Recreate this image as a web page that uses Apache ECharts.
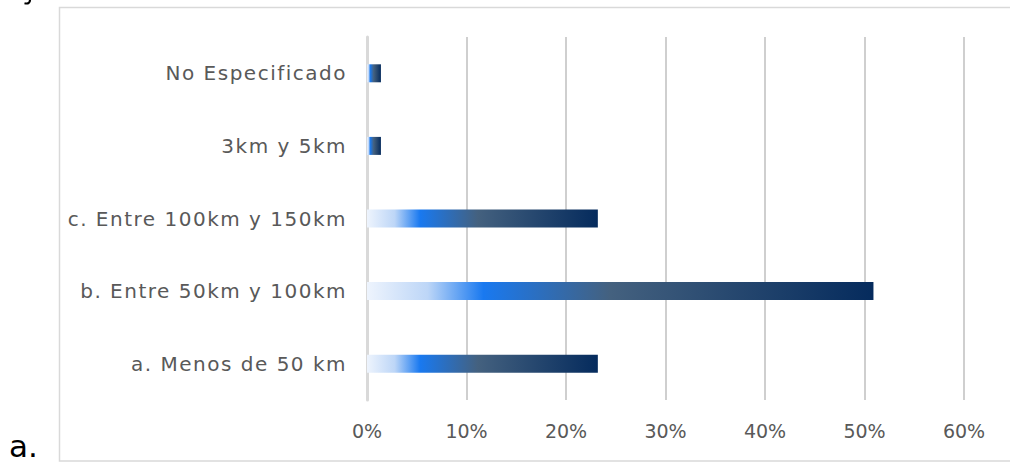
<!DOCTYPE html>
<html>
<head>
<meta charset="utf-8">
<script src="https://cdn.jsdelivr.net/npm/echarts@6/dist/echarts.min.js"></script>
<style>
  html, body { margin: 0; padding: 0; background: #ffffff; }
  #chart { width: 1010px; height: 465px; }
</style>
</head>
<body>
<div id="chart"></div>
<script>
// Distance categories (bottom to top) and their share of responses
const categories = [
  'a. Menos de 50 km',
  'b. Entre 50km y 100km',
  'c. Entre 100km y 150km',
  '3km y 5km',
  'No Especificado'
];
const shares = [23.2, 50.9, 23.2, 1.4, 1.4];
const tickMax = 60;
const tickStep = 10;

const FONT = 'DejaVu Sans';

// Per-bar horizontal gradient: pale blue -> bright blue -> slate -> navy
const barGradient = new echarts.graphic.LinearGradient(0, 0, 1, 0, [
  { offset: 0.00, color: '#eef4fd' },
  { offset: 0.12, color: '#bdd6f7' },
  { offset: 0.23, color: '#1979f0' },
  { offset: 0.48, color: '#44617f' },
  { offset: 1.00, color: '#052b5d' }
]);

const chart = echarts.init(document.getElementById('chart'), null, { renderer: 'svg' });

chart.setOption({
  animation: false,
  backgroundColor: '#ffffff',
  grid: { left: 367, right: 46, top: 37, bottom: 65, containLabel: false },
  xAxis: {
    type: 'value',
    min: 0,
    max: tickMax,
    interval: tickStep,
    axisLine: { show: false },
    axisTick: { show: false },
    axisLabel: {
      formatter: v => v + '%',
      color: '#595959',
      fontFamily: FONT,
      fontSize: 19,
      margin: 21
    },
    splitLine: { show: true, lineStyle: { color: '#cfcfcf', width: 2 } }
  },
  yAxis: {
    type: 'category',
    data: categories,
    axisLine: { show: true, lineStyle: { color: '#d9d9d9', width: 3 } },
    axisTick: { show: false },
    axisLabel: {
      color: '#595959',
      fontFamily: FONT,
      fontSize: 20,
      margin: 20
    }
  },
  series: [{
    type: 'bar',
    data: shares,
    barWidth: 18,
    itemStyle: { color: barGradient },
    z: 3
  }],
  graphic: [
    {
      type: 'rect',
      shape: { x: 59.5, y: 7.5, width: 1000, height: 453.5 },
      style: { fill: 'none', stroke: '#d9d9d9', lineWidth: 1.5 },
      silent: true
    },
    {
      type: 'text',
      left: 9,
      top: 430,
      style: { text: 'a.', font: '31px ' + FONT, fill: '#000000' },
      silent: true
    },
    {
      // tail of a glyph from the line above the frame
      type: 'bezierCurve',
      shape: { x1: 30, y1: 0, cpx1: 30, cpy1: 4.5, x2: 24.5, y2: 3.2 },
      style: { fill: 'none', stroke: '#000000', lineWidth: 2.2 },
      silent: true
    }
  ]
});

// Widen the category labels a little (letter spacing on the SVG text nodes)
document.querySelectorAll('#chart text').forEach(t => {
  if (categories.includes(t.textContent)) {
    t.style.letterSpacing = '1.5px';
  }
});
</script>
</body>
</html>
